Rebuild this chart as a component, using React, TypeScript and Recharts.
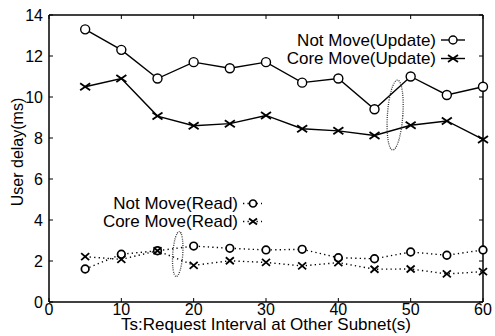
import React from "react";
import { LineChart, Line, XAxis, YAxis, ReferenceDot } from "recharts";

const intervals = [5, 10, 15, 20, 25, 30, 35, 40, 45, 50, 55, 60];
const notMoveUpdate = [13.3, 12.3, 10.9, 11.7, 11.4, 11.7, 10.7, 10.9, 9.4, 11.0, 10.1, 10.5];
const coreMoveUpdate = [10.5, 10.9, 9.07, 8.6, 8.7, 9.1, 8.45, 8.35, 8.12, 8.62, 8.83, 7.93];
const notMoveRead = [1.61, 2.33, 2.5, 2.73, 2.62, 2.54, 2.57, 2.16, 2.11, 2.44, 2.28, 2.54];
const coreMoveRead = [2.21, 2.08, 2.5, 1.79, 2.01, 1.93, 1.76, 1.92, 1.6, 1.61, 1.37, 1.48];
const xTicks = [0, 10, 20, 30, 40, 50, 60];
const yTicks = [0, 2, 4, 6, 8, 10, 12, 14];
const ellipses = [
  { x: 47.85, y: 9.12, rx: 7.7, ry: 35 },
  { x: 17.8, y: 2.34, rx: 5, ry: 22.5 },
];

const data = intervals.map((x, i) => ({
  x,
  nmu: notMoveUpdate[i],
  cmu: coreMoveUpdate[i],
  nmr: notMoveRead[i],
  cmr: coreMoveRead[i],
}));

const FONT = "'Liberation Sans', Arial, Helvetica, sans-serif";

const circleDot = (r: number, sw: number) => (props: any) => {
  const { cx, cy, index } = props;
  if (cx == null || cy == null) return <g key={index} />;
  return <circle key={index} cx={cx} cy={cy} r={r} fill="#fff" stroke="#000" strokeWidth={sw} />;
};

const crossDot = (hw: number, hh: number, sw: number) => (props: any) => {
  const { cx, cy, index } = props;
  if (cx == null || cy == null) return <g key={index} />;
  return (
    <g key={index}>
      <line x1={cx - hw} y1={cy - hh} x2={cx + hw} y2={cy + hh} stroke="#000" strokeWidth={sw} />
      <line x1={cx - hw} y1={cy + hh} x2={cx + hw} y2={cy - hh} stroke="#000" strokeWidth={sw} />
    </g>
  );
};

const emptyTick = () => <g />;

export default function App() {
  return (
    <div style={{ position: "absolute", left: 0, top: 0, width: 495, height: 336, background: "#fff" }}>
      <LineChart width={495} height={336} data={data} margin={{ top: 0, right: 0, bottom: 0, left: 0 }}>
        <XAxis
          dataKey="x"
          type="number"
          domain={[0, 60]}
          ticks={xTicks}
          height={34}
          tickSize={-4}
          tickMargin={6}
          stroke="#000"
          tick={{ fill: "#000", fontSize: 16, fontFamily: FONT }}
          axisLine={{ stroke: "#000", strokeWidth: 1.5 }}
          tickLine={{ stroke: "#000" }}
        />
        <XAxis
          xAxisId="top"
          orientation="top"
          dataKey="x"
          type="number"
          domain={[0, 60]}
          allowDataOverflow
          ticks={xTicks}
          height={15}
          tickSize={-4}
          tick={emptyTick}
          axisLine={{ stroke: "#000", strokeWidth: 1.5 }}
          tickLine={{ stroke: "#000" }}
        />
        <YAxis
          type="number"
          domain={[0, 14]}
          ticks={yTicks}
          width={49}
          tickSize={-4}
          tickMargin={10}
          tick={{ fill: "#000", fontSize: 16, fontFamily: FONT }}
          axisLine={{ stroke: "#000", strokeWidth: 1.5 }}
          tickLine={{ stroke: "#000" }}
        />
        <YAxis
          yAxisId="right"
          orientation="right"
          type="number"
          domain={[0, 14]}
          allowDataOverflow
          ticks={yTicks}
          width={12}
          tickSize={-4}
          tick={emptyTick}
          axisLine={{ stroke: "#000", strokeWidth: 1.5 }}
          tickLine={{ stroke: "#000" }}
        />
        <Line dataKey="nmu" stroke="#000" strokeWidth={1.4} dot={circleDot(4.5, 1.4)} isAnimationActive={false} />
        <Line dataKey="cmu" stroke="#000" strokeWidth={1.4} dot={crossDot(5, 3.5, 1.8)} isAnimationActive={false} />
        <Line dataKey="nmr" stroke="#000" strokeWidth={1.4} strokeDasharray="1.3 3.2" dot={circleDot(3.8, 1.7)} isAnimationActive={false} />
        <Line dataKey="cmr" stroke="#000" strokeWidth={1.4} strokeDasharray="1.3 3.2" dot={crossDot(4, 3.5, 1.8)} isAnimationActive={false} />
        {ellipses.map((e, i) => (
          <ReferenceDot
            key={i}
            x={e.x}
            y={e.y}
            r={1}
            shape={(p: any) => (
              <ellipse
                cx={p.cx}
                cy={p.cy}
                rx={e.rx}
                ry={e.ry}
                fill="none"
                stroke="#333"
                strokeWidth={1.3}
                strokeDasharray="1 1.2"
                transform={`rotate(4 ${p.cx} ${p.cy})`}
              />
            )}
          />
        ))}
      </LineChart>
      <svg
        width={495}
        height={336}
        style={{ position: "absolute", left: 0, top: 0, pointerEvents: "none" }}
        fontFamily={FONT}
      >
        <text x={436} y={45.5} fontSize={17} textAnchor="end" fill="#000">Not Move(Update)</text>
        <text x={436} y={64} fontSize={17} textAnchor="end" fill="#000">Core Move(Update)</text>
        <line x1={441} y1={40} x2={465} y2={40} stroke="#000" strokeWidth={1.4} />
        <circle cx={453} cy={40} r={4} fill="#fff" stroke="#000" strokeWidth={1.4} />
        <line x1={441} y1={58.5} x2={465} y2={58.5} stroke="#000" strokeWidth={1.4} />
        <line x1={448} y1={55} x2={458} y2={62} stroke="#000" strokeWidth={1.8} />
        <line x1={448} y1={62} x2={458} y2={55} stroke="#000" strokeWidth={1.8} />

        <text x={238} y={208.5} fontSize={17} textAnchor="end" fill="#000">Not Move(Read)</text>
        <text x={238} y={226.5} fontSize={17} textAnchor="end" fill="#000">Core Move(Read)</text>
        <line x1={243} y1={203.5} x2={262} y2={203.5} stroke="#000" strokeWidth={1.4} strokeDasharray="1.3 3.2" />
        <circle cx={253} cy={203.5} r={3.5} fill="#fff" stroke="#000" strokeWidth={1.7} />
        <line x1={243} y1={221.5} x2={262} y2={221.5} stroke="#000" strokeWidth={1.4} strokeDasharray="1.3 3.2" />
        <line x1={249} y1={218.5} x2={257} y2={224.5} stroke="#000" strokeWidth={1.8} />
        <line x1={249} y1={224.5} x2={257} y2={218.5} stroke="#000" strokeWidth={1.8} />

        <text x={266} y={329.5} fontSize={17} textAnchor="middle" fill="#000">Ts:Request Interval at Other Subnet(s)</text>
        <text x={0} y={0} fontSize={16} textAnchor="middle" fill="#000" transform="translate(23 152) rotate(-90)">User delay(ms)</text>
      </svg>
    </div>
  );
}
